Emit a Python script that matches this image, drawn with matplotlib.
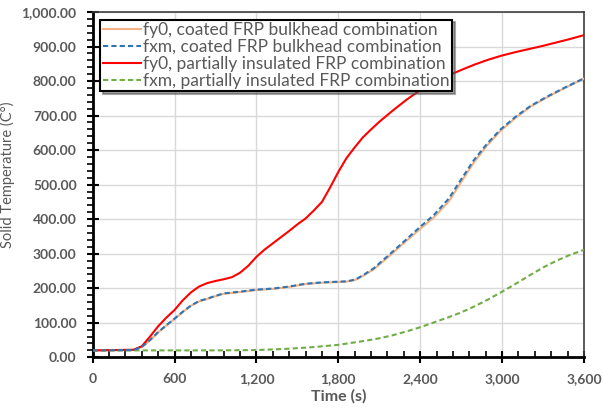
import matplotlib
matplotlib.use("Agg")
import matplotlib.pyplot as plt
import matplotlib.ticker as mticker

# Data (time in s, temperature in C)
t_blue = [0, 300, 360, 420, 480, 540, 600, 660, 720, 780, 840, 900, 960, 1080, 1200, 1320, 1440,
          1560, 1680, 1800, 1860, 1925, 1990, 2060, 2170, 2280, 2400, 2500, 2610, 2696, 2793,
          2891, 2989, 3100, 3209, 3330, 3454, 3600]
fxm_coated = [20, 21, 30, 50, 73, 93, 112, 132, 150, 163, 170, 178, 185, 190, 196, 199, 205,
              213, 217, 219, 220, 225, 240, 258, 296, 335, 378, 412, 460, 513, 571,
              619, 660, 697, 728, 755, 780, 808]
fy0_coated = [20, 21, 30, 49, 72, 92, 111, 131, 149, 162, 169, 177, 184, 189, 195, 198, 204,
              212, 216, 218, 219, 224, 238, 255, 292, 331, 372, 405, 452, 505, 564,
              614, 656, 694, 726, 753, 779, 807]

t_red = [0, 300, 360, 420, 480, 540, 600, 660, 720, 780, 840, 900, 960, 1020, 1080, 1140, 1200,
         1260, 1320, 1380, 1440, 1500, 1560, 1620, 1680, 1740, 1800, 1860, 1920, 1980, 2040,
         2100, 2200, 2300, 2400, 2500, 2600, 2700, 2800, 2900, 3000, 3100, 3200, 3300, 3400,
         3500, 3600]
fy0_partial = [20, 22, 32, 60, 90, 115, 137, 165, 188, 205, 215, 221, 226, 232, 245, 265, 291,
               312, 330, 348, 366, 385, 402, 425, 450, 492, 537, 577, 608, 637, 660,
               682, 715, 746, 774, 796, 815, 832, 848, 862, 874, 884, 893, 902, 912,
               922, 933]

t_green = [0, 600, 900, 1200, 1400, 1600, 1800, 1900, 2000, 2100, 2200, 2300, 2400, 2500, 2600,
           2700, 2800, 2900, 3000, 3100, 3200, 3300, 3400, 3500, 3600]
fxm_partial = [20, 20, 20, 21, 24, 29, 36, 42, 48, 55, 64, 75, 87, 101, 115,
               130, 148, 168, 190, 213, 237, 260, 280, 297, 311]

labels = ["fy0, coated FRP bulkhead combination",
          "fxm, coated FRP bulkhead combination",
          "fy0, partially insulated FRP combination",
          "fxm, partially insulated FRP combination"]

plt.rcParams['font.family'] = ['Lato', 'DejaVu Sans']
gray = '#595959'

fig = plt.figure(figsize=(6.03, 4.09), dpi=100)
ax = fig.add_axes([0.1537, 0.1264, 0.8148, 0.8443])

ax.plot(t_blue, fy0_coated, color='#f4b183', lw=1.5, label=labels[0], zorder=3)
ax.plot(t_blue, fxm_coated, color='#2e75b6', lw=1.5, ls=(0, (2.5, 1.5)), label=labels[1], zorder=4)
ax.plot(t_red, fy0_partial, color='#ff0000', lw=1.5, label=labels[2], zorder=3)
ax.plot(t_green, fxm_partial, color='#70ad47', lw=1.5, ls=(0, (2.5, 1.5)), label=labels[3], zorder=3)

ax.set_xlim(0, 3600)
ax.set_ylim(0, 1000)
ax.xaxis.set_major_locator(mticker.MultipleLocator(600))
ax.xaxis.set_minor_locator(mticker.MultipleLocator(120))
ax.yaxis.set_major_locator(mticker.MultipleLocator(100))
ax.yaxis.set_minor_locator(mticker.MultipleLocator(20))
ax.xaxis.set_major_formatter(mticker.FuncFormatter(lambda v, p: f"{v:,.0f}"))
ax.yaxis.set_major_formatter(mticker.FuncFormatter(lambda v, p: f"{v:,.2f}"))

ax.grid(True, which='major', color='#d9d9d9', lw=1)
ax.set_axisbelow(True)

ax.tick_params(axis='both', which='major', direction='inout', length=9, width=1.5,
               colors='black', labelcolor=gray, labelsize=10)
ax.tick_params(axis='x', which='minor', direction='in', length=4, width=1.2, colors='black')
ax.tick_params(axis='y', which='minor', direction='out', length=4, width=1.2, colors='black')
for lab in ax.get_xticklabels() + ax.get_yticklabels():
    lab.set_fontweight('bold')
ax.tick_params(axis='x', pad=7)
ax.tick_params(axis='y', pad=7)

for s in ['left', 'bottom']:
    ax.spines[s].set_color('black')
    ax.spines[s].set_linewidth(2)
for s in ['top', 'right']:
    ax.spines[s].set_color('#404040')
    ax.spines[s].set_linewidth(1.2)

ax.set_xlabel("Time (s)", color=gray, fontsize=11.5, fontweight='bold', labelpad=3)
ax.set_ylabel("Solid Temperature (C°)", color=gray, fontsize=10.5)
ax.yaxis.set_label_coords(-0.158, 0.53)

leg = ax.legend(loc='upper left', bbox_to_anchor=(0.008, 0.988), fontsize=12.5,
                frameon=True, fancybox=False, shadow=True, handlelength=2.2,
                handletextpad=0.1, borderpad=0.15, labelspacing=0.05, borderaxespad=0.2)
leg.get_frame().set_edgecolor('black')
leg.get_frame().set_linewidth(1.5)
for txt in leg.get_texts():
    txt.set_color(gray)

fig.savefig("out.png", dpi=100)
